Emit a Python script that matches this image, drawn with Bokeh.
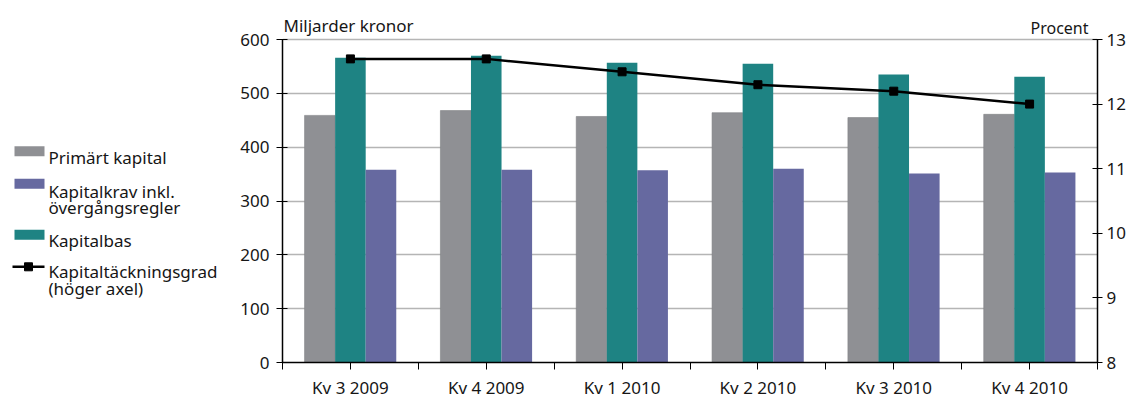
from bokeh.plotting import figure
from bokeh.models import Range1d, LinearAxis, FixedTicker, ColumnDataSource
from bokeh.layouts import row
from bokeh.embed import file_html
from bokeh.resources import INLINE
from bokeh.core.properties import value

quarters = ["Kv 3 2009", "Kv 4 2009", "Kv 1 2010", "Kv 2 2010", "Kv 3 2010", "Kv 4 2010"]
primart = [459, 468, 457, 464, 455, 461]
kapitalkrav = [358, 358, 357, 360, 351, 353]
kapitalbas = [566, 570, 557, 555, 535, 531]
grad = [12.7, 12.7, 12.5, 12.3, 12.2, 12.0]

legend_labels = ["Primärt kapital", "Kapitalkrav inkl.\növergångsregler", "Kapitalbas",
                 "Kapitaltäckningsgrad\n(höger axel)"]

C_GRAY = "#8f9094"
C_PURPLE = "#6669a0"
C_TEAL = "#1e8383"
TXT = "#161616"
FONT = "Noto Sans"

H = 401
LW = 228                      # legend panel width
MW = 1135 - LW                # main panel width
FRAME_L, FRAME_R = 282, 1097  # frame edges (picture px)
Y_TOP_VAL, Y_ZERO = 39, 362   # pixel rows of 600 / 0

# extend the value ranges upward so the frame reaches the canvas top (room for titles)
y_hi = 600 * Y_ZERO / (Y_ZERO - Y_TOP_VAL)
r_hi = 8 + 5 * Y_ZERO / (Y_ZERO - Y_TOP_VAL)

centers = [i + 0.5 for i in range(len(quarters))]
w = 0.225
src = ColumnDataSource(dict(
    xg=[c - w for c in centers], xt=centers, xp=[c + w for c in centers],
    primart=primart, krav=kapitalkrav, bas=kapitalbas, grad=grad))

p = figure(width=MW, height=H, output_backend="svg", toolbar_location=None,
           x_range=Range1d(0, 6), y_range=Range1d(0, y_hi),
           min_border_left=FRAME_L - LW, min_border_right=MW - (FRAME_R - LW),
           min_border_top=0, min_border_bottom=H - Y_ZERO)
p.outline_line_color = None
p.extra_y_ranges = {"right": Range1d(8, r_hi)}

p.vbar(x="xg", top="primart", width=w, source=src, fill_color=C_GRAY, line_color="#808185", line_width=0.6)
p.vbar(x="xt", top="bas", width=w, source=src, fill_color=C_TEAL, line_color=None)
p.vbar(x="xp", top="krav", width=w, source=src, fill_color=C_PURPLE, line_color=None)
p.line(x="xt", y="grad", source=src, y_range_name="right", line_color="black", line_width=2.5)
p.scatter(x="xt", y="grad", source=src, y_range_name="right", marker="square", size=8,
          fill_color="black", line_color="black")

# grid
p.xgrid.visible = False
p.ygrid.ticker = FixedTicker(ticks=[100, 200, 300, 400, 500, 600])
p.ygrid.grid_line_color = "#b5b5b5"
p.ygrid.grid_line_width = 1.5

# x axis: ticks at category boundaries and centres
xa = p.xaxis[0]
xa.ticker = FixedTicker(ticks=[i * 0.5 for i in range(13)])
ov = {i * 0.5: "" for i in range(13)}
for c, q in zip(centers, quarters):
    ov[c] = q
xa.major_label_overrides = ov
xa.major_label_text_font = FONT
xa.major_label_text_font_size = "17px"
xa.major_label_text_color = TXT
xa.major_label_standoff = 6
xa.major_tick_out = 7
xa.major_tick_in = 0
xa.minor_tick_line_color = None
xa.axis_line_width = 1.5

ya = p.yaxis[0]
ya.ticker = FixedTicker(ticks=[0, 100, 200, 300, 400, 500, 600])
ya.bounds = (0, 600)
ya.major_tick_out = 6
ya.major_tick_in = 5
ya.minor_tick_line_color = None
ya.axis_line_width = 1.5
ya.major_label_standoff = 7
ya.major_label_text_font = FONT
ya.major_label_text_font_size = "17px"
ya.major_label_text_color = TXT

ra = LinearAxis(y_range_name="right", ticker=FixedTicker(ticks=[8, 9, 10, 11, 12, 13]),
                bounds=(8, 13))
ra.major_tick_out = 5
ra.major_tick_in = 5
ra.minor_tick_line_color = None
ra.axis_line_width = 1.5
ra.major_label_standoff = 4
ra.major_label_text_font = FONT
ra.major_label_text_font_size = "17px"
ra.major_label_text_color = TXT
p.add_layout(ra, "right")

# axis titles
p.text(x=[0], y=[600], text=["Miljarder kronor"], x_offset=1, y_offset=-14,
       text_font=value(FONT), text_font_size="17px", text_color=TXT,
       text_baseline="alphabetic", text_align="left")
p.text(x=[6], y=[600], text=["Procent"], x_offset=-9, y_offset=-12,
       text_font=value(FONT), text_font_size="16px", text_color=TXT,
       text_baseline="alphabetic", text_align="right")

# legend panel (pixel coordinates)
lg = figure(width=LW, height=H, output_backend="svg", toolbar_location=None,
            x_range=Range1d(0, LW), y_range=Range1d(H, 0),
            x_axis_location=None, y_axis_location=None, min_border=0)
lg.outline_line_color = None
lg.grid.visible = False
lg.rect(x=[29, 29, 29], y=[167, 203, 259.5], width=30, height=10, width_units="screen",
        height_units="screen", fill_color=[C_GRAY, C_PURPLE, C_TEAL], line_color=None)
lg.line(x=[12, 44], y=[295, 295], line_color="black", line_width=2.5)
lg.scatter(x=[28], y=[295], marker="square", size=8, fill_color="black", line_color="black")
leg_lines = [(173.5, legend_labels[0]),
             (211.5, legend_labels[1].split("\n")[0]), (229.5, legend_labels[1].split("\n")[1]),
             (266, legend_labels[2]),
             (300.5, legend_labels[3].split("\n")[0]), (319, legend_labels[3].split("\n")[1])]
lg.text(x=[48] * len(leg_lines), y=[l[0] for l in leg_lines], text=[l[1] for l in leg_lines],
        text_font=value(FONT), text_font_size="17px", text_color=TXT, text_baseline="alphabetic",
        text_align="left")

layout = row(lg, p)
open("out.html", "w").write(file_html(layout, INLINE))
